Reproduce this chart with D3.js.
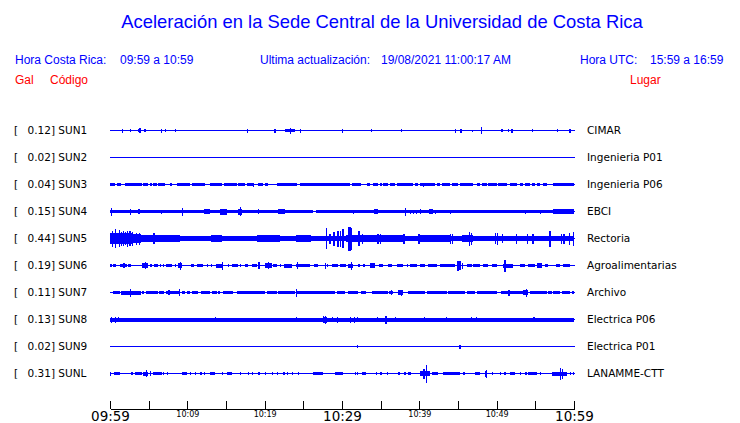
<!DOCTYPE html>
<html><head><meta charset="utf-8">
<script src="https://cdn.jsdelivr.net/npm/d3@7"></script>
<style>
body{margin:0;background:#fff;}
svg{display:block;}
</style></head>
<body>
<svg id="c" width="740" height="423"></svg>
<script>
// ---------------- DATA ----------------
const title = "Aceleración en la Sede Central de la Universidad de Costa Rica";
const localRange = "09:59 a 10:59";
const utcRange = "15:59 a 16:59";
const lastUpdate = "19/08/2021 11:00:17 AM";
const startTime = [2021, 7, 19, 9, 59];  // 09:59 local
const spanMinutes = 60;
const tickStepMinutes = 5;
const labelStepMinutes = 10;

const stations = ["SUN1","SUN2","SUN3","SUN4","SUN5","SUN6","SUN7","SUN8","SUN9","SUNL"];
const peakGal  = [0.12, 0.02, 0.04, 0.15, 0.44, 0.19, 0.11, 0.13, 0.02, 0.31];
const places   = ["CIMAR","Ingenieria P01","Ingenieria P06","EBCI","Rectoria","Agroalimentarias","Archivo","Electrica P06","Electrica P01","LANAMME-CTT"];

// Envelope segments [startMinute, endMinute, amplitude] and spikes [minute, amplitude]
// amplitude in relative units of each trace
const sun1Bursts = [[3.6,4.0,1.5],[22.6,23.9,1.2]];
const sun1Spikes = [[1.59,2],[2.59,1.5],[3.81,2.5],[4.44,1.5],[6.6,2],[7.11,1.5],[8.4,1.5],[17.68,2],[21.25,2],[23.3,3],[24.57,2],[30.0,2],[33.75,1.5],[37.6,1.5],[44.6,2],[45.3,2],[46.8,1],[47.98,3.5],[50.6,1.5],[51.5,1.5],[51.9,2],[54.6,1.5],[57.8,1.5],[59.4,2]];

const sun2Bursts = [];
const sun2Spikes = [];

const sun3Bursts = [[0,0.65,1.5],[0.87,1.42,1.5],[1.94,4.1,1.5],[4.31,4.87,1.5],[5.17,5.39,1.5],[5.6,6.04,1.5],[6.25,7.11,1.5],[7.76,7.98,1.5],[8.62,10.34,1.5],[10.64,12.28,1.5],[12.93,14.44,1.5],[14.78,16.38,1.5],[16.59,17.46,1.5],[17.68,18.53,1.5],[19.18,19.82,1.5],[20.04,20.47,1.5],[21.55,24.14,1.5],[24.57,31.03,1.5],[31.25,32.42,1.5],[33.19,33.62,1.5],[34.05,34.69,1.5],[34.91,35.13,1.5],[35.34,35.98,1.5],[36.2,36.85,1.5],[37.07,39.22,1.5],[39.44,39.86,1.5],[40.08,42.02,1.5],[42.24,42.67,1.5],[42.89,43.96,1.5],[44.18,45.04,1.5],[45.26,46.98,1.5],[47.42,47.84,1.5],[48.06,48.71,1.5],[48.92,50.0,1.5],[50.21,51.29,1.5],[51.72,52.59,1.5],[53.01,53.44,1.5],[53.66,54.31,1.5],[54.53,54.95,1.5],[55.17,55.6,1.5],[56.03,56.47,1.5],[57.32,60,1.5]];
const sun3Spikes = [[18.5,2],[40.5,2]];

const sun4Bursts = [[0,26.3,1.8],[26.7,57.3,1.8],[57.3,60,2.2],[12.2,12.9,2.3],[14.22,15.09,3],[16.5,17.1,3],[21.76,22.63,2.3],[34.2,34.7,2.5],[41.3,41.8,2.5]];
const sun4Spikes = [[0.09,4],[2.59,3],[3.66,2.5],[6.59,2],[9.27,4],[12.5,2],[13.36,1.5],[16.81,4.5],[19.1,2.5],[20.39,1.5],[31.46,2],[32.75,1.5],[34.4,2],[36.43,1.5],[38.14,4],[38.79,2],[39.14,2],[39.57,2],[40.08,2.5],[41.38,1.5],[42.02,2],[43.96,2],[44.61,1.5],[46.12,1.5],[53.66,2],[55.6,2]];

const sun5Bursts = [[0,2.9,5.3],[2.9,4.0,4.5],[4.0,5.5,3.8],[5.5,9,3.2],[9,30.5,2.9],[30.5,33,3.8],[33,38,3.2],[38,60,2.9],[13,14.5,3.5],[19,22,3.4],[24,26,3.4],[40,44,3.4],[45.5,47,3.6]];
const sun5Spikes = [[0.2,8],[0.65,9.5],[1.1,8.5],[1.38,7],[1.7,7.5],[1.9,6.5],[2.2,8],[2.5,7.5],[2.85,7],[3.3,6],[3.7,6],[5.6,5.5],[27.95,10.5],[28.36,5],[28.88,7],[29.4,8],[29.74,8],[30.05,9.5],[30.82,12],[31.03,12],[31.12,11],[32.11,7.5],[32.54,5],[34.57,5],[34.91,5],[37.93,5],[39.87,5],[43.96,5],[44.18,5],[46.46,7],[46.64,6],[49.8,5.5],[50.0,6],[50.64,4.5],[52.5,5],[53.88,5],[54.61,5],[56.81,8],[58.27,5],[58.62,5],[59.3,6],[59.9,7]];

const sun6Bursts = [[0.0,0.21,1.5],[0.43,0.77,1.5],[1.29,2.15,1.5],[2.37,2.71,1.5],[4.18,4.95,2.5],[5.17,5.38,1.5],[5.73,6.16,1.5],[7.24,7.97,1.5],[8.83,9.26,2.5],[10.47,10.81,1.5],[11.2,12.06,1.5],[13.7,14.65,2],[15.73,16.59,1.5],[17.45,17.88,1.5],[18.31,18.96,1.5],[20.04,20.9,2.2],[21.12,21.55,1.5],[22.5,23.49,2],[24.05,25.86,1.8],[26.42,26.93,1.5],[28.66,29.52,1.5],[29.74,30.38,1.5],[30.82,31.46,2],[32.11,32.33,1.5],[33.62,34.27,2.5],[34.83,35.26,1.5],[35.99,36.42,1.5],[37.07,37.93,1.5],[38.79,39.65,1.5],[40.08,40.73,1.5],[41.16,42.24,1.5],[42.67,44.61,1.5],[46.12,46.76,1.5],[46.98,47.84,1.5],[48.27,48.92,1.5],[49.35,50.0,1.5],[50.86,52.15,2],[53.01,53.66,1.5],[54.09,54.95,1.5],[55.17,55.82,2.5],[56.25,56.68,1.5],[57.67,58.19,1.5],[58.62,59.48,1.5]];
const sun6Spikes = [[1.72,2.5],[4.52,3.5],[6.46,1.5],[6.89,1.5],[8.4,1.5],[9.05,4],[12.5,1.5],[13.06,1.5],[14.52,4],[15.21,1.5],[16.81,1.5],[19.18,3.5],[20.38,3.5],[21.98,1.5],[24.13,3.5],[27.8,3],[28.01,1.5],[30.39,1.5],[31.12,4],[32.76,1.5],[38.36,1.5],[44.91,5],[45.17,4.5],[45.51,3],[50.99,6]];

const sun7Bursts = [[0.43,1.29,1.5],[1.42,4.0,2],[4.09,4.44,1.5],[4.61,6.25,1.5],[6.38,7.02,1.5],[7.19,9.05,1.5],[9.26,9.69,1.5],[9.91,10.34,1.5],[10.56,11.42,1.5],[11.76,12.93,1.5],[13.14,13.79,1.5],[14.0,14.22,1.5],[14.65,15.94,1.5],[16.37,20.04,1.5],[20.25,21.55,1.5],[21.76,23.92,1.5],[24.13,29.09,1.5],[29.3,30.39,1.5],[30.82,32.11,1.5],[32.41,33.1,1.5],[33.83,35.99,1.5],[36.12,36.64,1.5],[37.28,37.93,2.5],[38.58,40.73,1.5],[40.95,43.53,1.5],[43.75,45.9,1.5],[46.12,47.2,1.5],[47.41,50.0,1.5],[50.51,53.45,1.5],[53.45,54.09,2.5],[54.31,56.46,1.5],[56.68,57.11,1.5],[57.32,58.19,1.5],[58.4,59.48,1.5],[59.7,60,1.5]];
const sun7Spikes = [[2.58,4],[7.54,2.5],[8.92,3.5],[24.05,4],[36.29,2.5],[37.63,3],[51.51,3],[53.79,4]];

const sun8Bursts = [[0,60,2],[27.5,28.0,3],[35.5,35.8,3]];
const sun8Spikes = [[0.08,3],[0.64,3],[1.07,2.5],[13.57,2.5],[24.05,2.5],[27.58,3.5],[27.8,4],[28.66,2.5],[29.3,3],[31.03,3],[31.55,3],[31.9,2.5],[34.48,2.5],[35.6,4],[36.85,2.5],[40.64,2.5],[43.4,2.5],[46.64,2.5],[47.28,2.5],[54.74,2.5]];

const sun9Bursts = [];
const sun9Spikes = [[31.9,1.5],[45.17,2]];

const sunlBursts = [[0.56,1.29,1.3],[2.71,3.01,1.3],[3.23,4.09,1.3],[4.31,4.95,2],[5.6,6.68,1.3],[7.32,7.54,1.3],[9.26,9.91,1.3],[11.63,11.85,1.3],[12.93,13.57,1.3],[14.44,14.65,1.3],[15.08,15.73,1.3],[19.18,19.39,1.3],[20.9,21.12,1.3],[26.29,27.58,1.7],[29.09,30.17,1.3],[32.54,33.1,1.3],[34.91,35.13,1.3],[37.28,37.5,1.3],[38.58,38.88,1.3],[40.08,41.38,2.5],[41.59,42.45,1.3],[43.01,45.26,1.5],[45.69,45.9,1.3],[47.2,47.84,1.3],[48.49,48.71,3],[51.72,52.37,1.3],[53.66,53.88,1.3],[54.09,55.17,1.3],[57.11,59.05,2]];
const sunlSpikes = [[0.0,2],[4.65,3.5],[5.17,2.5],[6.89,1.5],[10.34,1.5],[10.99,1.5],[12.15,1.5],[16.81,1.5],[17.88,1.5],[18.31,1.5],[20.04,1.5],[21.55,1.5],[22.41,1.5],[22.84,1.5],[23.49,1.5],[24.26,1.5],[31.68,1.5],[31.9,1.5],[34.39,1.5],[35.77,1.5],[38.06,1.5],[40.52,5],[40.86,9],[48.6,4],[49.35,1.5],[50.43,1.5],[50.99,1.5],[53.01,1.5],[55.6,1.5],[58.19,6],[58.4,5],[59.48,1.5],[59.9,1.5]];

const traceBursts = [sun1Bursts,sun2Bursts,sun3Bursts,sun4Bursts,sun5Bursts,sun6Bursts,sun7Bursts,sun8Bursts,sun9Bursts,sunlBursts];
const traceSpikes = [sun1Spikes,sun2Spikes,sun3Spikes,sun4Spikes,sun5Spikes,sun6Spikes,sun7Spikes,sun8Spikes,sun9Spikes,sunlSpikes];

// ---------------- CHART ----------------
const svg = d3.select("#c");
const BLUE = "#0000ff", RED = "#ff0000";
const sans = "'Liberation Sans', Arial, Helvetica, sans-serif";
const dv = "'DejaVu Sans', sans-serif";

const t0 = new Date(...startTime);
const t1 = d3.timeMinute.offset(t0, spanMinutes);
const toDate = m => new Date(t0.getTime() + m * 60000);

const x = d3.scaleTime().domain([t0, t1]).range([110, 574]);
const y = d3.scalePoint().domain(stations).range([130, 373]);
const amp = d3.scaleLinear().domain([0, 12]).range([0, 12]);

// Header
svg.append("text").attr("x", 382).attr("y", 28).attr("text-anchor", "middle")
  .attr("font-family", sans).attr("font-size", 18.4).attr("fill", BLUE).text(title);

const hdr = [
  [15, "Hora Costa Rica:"], [120, localRange],
  [260, "Ultima actualización:"], [381, lastUpdate],
  [580, "Hora UTC:"], [650, utcRange]
];
svg.selectAll("text.hdr").data(hdr).join("text").attr("class","hdr")
  .attr("x", d => d[0]).attr("y", 64).attr("font-family", sans).attr("font-size", 12)
  .attr("fill", BLUE).text(d => d[1]);

const hdr2 = [[15, "Gal"], [50, "Código"], [630, "Lugar"]];
svg.selectAll("text.hdr2").data(hdr2).join("text").attr("class","hdr2")
  .attr("x", d => d[0]).attr("y", 84).attr("font-family", sans).attr("font-size", 12)
  .attr("fill", RED).text(d => d[1]);

// Left labels
const fmt = d3.format(".2f");
const rows = stations.map((s, i) => ({s, g: peakGal[i], p: places[i], b: traceBursts[i], k: traceSpikes[i]}));

const lab = svg.append("g").attr("font-family", dv).attr("font-size", 10.5).attr("fill", "#000");
lab.selectAll("text.br").data(rows).join("text").attr("class","br")
  .attr("x", 14).attr("y", d => y(d.s) + 4).text("[");
lab.selectAll("text.gv").data(rows).join("text").attr("class","gv")
  .attr("x", 27.5).attr("y", d => y(d.s) + 4).text(d => fmt(d.g) + "] " + d.s);
lab.selectAll("text.pl").data(rows).join("text").attr("class","pl")
  .attr("x", 587).attr("y", d => y(d.s) + 4).text(d => d.p);

// Traces
const tr = svg.append("g").attr("fill", BLUE).attr("shape-rendering", "crispEdges");
rows.forEach(r => {
  const yc = y(r.s);
  const g = tr.append("g");
  g.append("rect").attr("x", x(t0)).attr("width", x(t1) - x(t0) + 1)
    .attr("y", yc).attr("height", 1);
  g.selectAll("rect.b").data(r.b).join("rect").attr("class","b")
    .attr("x", d => x(toDate(d[0])))
    .attr("width", d => Math.max(1, x(toDate(d[1])) - x(toDate(d[0]))))
    .attr("y", d => yc + 0.5 - amp(d[2]))
    .attr("height", d => 2 * amp(d[2]));
  g.selectAll("rect.s").data(r.k).join("rect").attr("class","s")
    .attr("x", d => x(toDate(d[0])))
    .attr("width", 1.2)
    .attr("y", d => yc + 0.5 - amp(d[1]))
    .attr("height", d => 2 * amp(d[1]));
});

// Time axis
const tickVals = d3.range(0, spanMinutes + 1, tickStepMinutes).map(toDate);
const axis = d3.axisBottom(x).tickValues(tickVals).tickSizeInner(-8).tickSizeOuter(0).tickPadding(2)
  .tickFormat((d, i) => ((i * tickStepMinutes) % labelStepMinutes === 0 && i > 0) || i === 0 ? d3.timeFormat("%H:%M")(d) : "");
const ax = svg.append("g").attr("transform", "translate(0,409)").call(axis);
ax.select(".domain").attr("stroke", "#000").attr("shape-rendering", "crispEdges");
ax.selectAll(".tick line").attr("stroke", "#000").attr("shape-rendering", "crispEdges");
ax.selectAll(".tick text").attr("font-family", dv).attr("fill", "#000")
  .attr("font-size", (d, i) => (i * tickStepMinutes) % 30 === 0 ? 13.5 : 8);
</script>
</body></html>
